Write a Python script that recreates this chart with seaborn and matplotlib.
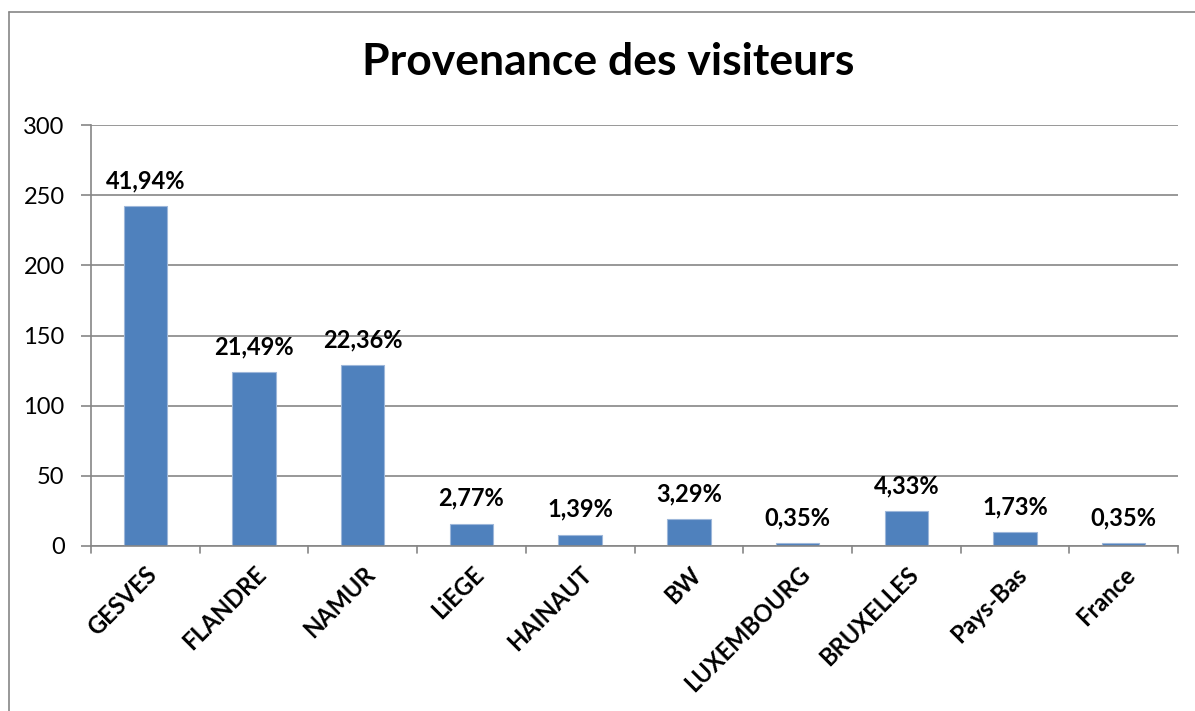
import matplotlib
matplotlib.use("Agg")
import matplotlib.pyplot as plt
import seaborn as sns
import pandas as pd
from matplotlib.lines import Line2D

categories = ["GESVES", "FLANDRE", "NAMUR", "LiEGE", "HAINAUT", "BW",
              "LUXEMBOURG", "BRUXELLES", "Pays-Bas", "France"]
values = [242, 124, 129, 16, 8, 19, 2, 25, 10, 2]
labels = ["41,94%", "21,49%", "22,36%", "2,77%", "1,39%", "3,29%",
          "0,35%", "4,33%", "1,73%", "0,35%"]
yticks = [0, 50, 100, 150, 200, 250, 300]
title = "Provenance des visiteurs"

sns.set_style("white")
plt.rcParams['font.family'] = ['Lato', 'DejaVu Sans']

W, H = 1195, 711
fig = plt.figure(figsize=(W / 100, H / 100), dpi=100)
ax = fig.add_axes([91 / W, 1 - 546 / H, (1178 - 91) / W, (546 - 125) / H])

df = pd.DataFrame({"cat": categories, "val": values})
sns.barplot(data=df, x="cat", y="val", color="#4F81BD", width=0.4,
            saturation=1, ax=ax, edgecolor="#9DB7DA", linewidth=0.8)

ax.set_xlim(-0.5, len(categories) - 0.5)
ax.set_ylim(0, 300)
ax.set_yticks(yticks)
ax.set_yticklabels([str(t) for t in yticks], fontsize=17, color="black")
ax.yaxis.grid(True, color="#868686", linewidth=1.2)
ax.set_axisbelow(True)
ax.set_xlabel("")
ax.set_ylabel("")

ax.set_xticks([i for i in range(len(categories))])
ax.set_xticklabels(categories, rotation=45, ha="right", rotation_mode="anchor",
                   fontsize=17, fontweight="bold", color="black")
ax.tick_params(axis="x", length=0, pad=12)
for b in range(len(categories) + 1):
    ax.plot([b - 0.5, b - 0.5], [0, -5], color="#868686", lw=1.2,
            clip_on=False, transform=ax.transData)
ax.tick_params(axis="y", length=7, color="#868686", width=1.2, left=True, pad=12)

for s in ["top", "right"]:
    ax.spines[s].set_visible(False)
for s in ["left", "bottom"]:
    ax.spines[s].set_color("#868686")
    ax.spines[s].set_linewidth(1.2)

for i, (v, lab) in enumerate(zip(values, labels)):
    ax.annotate(lab, (i, v), xytext=(0, 10), textcoords="offset points",
                ha="center", va="bottom", fontsize=17, fontweight="bold",
                color="black")

fig.text(608 / W, 1 - 62 / H, title, ha="center", va="center",
         fontsize=32, fontweight="bold", color="black")

fig.add_artist(Line2D([9 / W, 9 / W], [0, 1 - 12 / H], color="#868686", lw=1.2))
fig.add_artist(Line2D([9 / W, 1], [1 - 12 / H, 1 - 12 / H], color="#868686", lw=1.2))

fig.savefig("out.png", dpi=100)
